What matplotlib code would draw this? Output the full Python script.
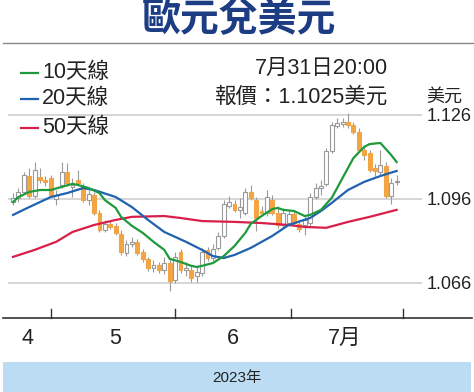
import matplotlib
matplotlib.use("Agg")
import matplotlib.pyplot as plt
from matplotlib.lines import Line2D
from matplotlib.patches import Rectangle

plt.rcParams['font.family'] = ['Liberation Sans', 'Noto Sans CJK TC']

# ---- data (EUR/USD daily candles) ----
opens = [1.0949, 1.0964, 1.0985, 1.1042, 1.0971, 1.1039, 1.1028, 1.1035, 1.0960, 1.1010,
         1.1056, 1.1003, 1.1028, 1.1003, 1.0956, 1.0974, 1.0910, 1.0849, 1.0871, 1.0864,
         1.0835, 1.0767, 1.0799, 1.0807, 1.0771, 1.0746, 1.0714, 1.0724, 1.0706, 1.0731,
         1.0671, 1.0771, 1.0706, 1.0706, 1.0685, 1.0696, 1.0778, 1.0749, 1.0785, 1.0828,
         1.0935, 1.0942, 1.0921, 1.0910, 1.0985, 1.0956, 1.0917, 1.0910, 1.0956, 1.0910,
         1.0867, 1.0874, 1.0906, 1.0871, 1.0867, 1.0874, 1.0967, 1.0999, 1.1014, 1.1131,
         1.1221, 1.1228, 1.1235, 1.1224, 1.1199, 1.1135, 1.1124, 1.1071, 1.1056, 1.1078,
         1.0971, 1.1019]
highs = [1.0981, 1.0999, 1.1056, 1.1071, 1.1092, 1.1071, 1.1042, 1.1046, 1.0992, 1.1092,
         1.1088, 1.1035, 1.1063, 1.1017, 1.0992, 1.0985, 1.0921, 1.0885, 1.0881, 1.0874,
         1.0849, 1.0814, 1.0824, 1.0817, 1.0781, 1.0753, 1.0742, 1.0735, 1.0753, 1.0749,
         1.0771, 1.0781, 1.0735, 1.0721, 1.0721, 1.0785, 1.0789, 1.0799, 1.0842, 1.0956,
         1.0971, 1.0956, 1.0964, 1.0999, 1.1010, 1.0967, 1.0935, 1.0992, 1.0974, 1.0935,
         1.0928, 1.0921, 1.0921, 1.0885, 1.0899, 1.0981, 1.1017, 1.1028, 1.1142, 1.1235,
         1.1249, 1.1249, 1.1267, 1.1235, 1.1214, 1.1149, 1.1135, 1.1085, 1.1135, 1.1092,
         1.1035, 1.1046]
lows = [1.0939, 1.0949, 1.0981, 1.0964, 1.0964, 1.1017, 1.1006, 1.0967, 1.0939, 1.0999,
        1.1006, 1.0967, 1.1010, 1.0949, 1.0939, 1.0903, 1.0842, 1.0842, 1.0853, 1.0831,
        1.0760, 1.0756, 1.0789, 1.0760, 1.0735, 1.0703, 1.0699, 1.0696, 1.0692, 1.0632,
        1.0660, 1.0696, 1.0685, 1.0664, 1.0664, 1.0685, 1.0739, 1.0739, 1.0778, 1.0821,
        1.0928, 1.0914, 1.0892, 1.0903, 1.0956, 1.0846, 1.0899, 1.0899, 1.0903, 1.0857,
        1.0857, 1.0864, 1.0864, 1.0842, 1.0831, 1.0864, 1.0960, 1.0974, 1.1006, 1.1124,
        1.1214, 1.1217, 1.1214, 1.1192, 1.1128, 1.1099, 1.1056, 1.1042, 1.1046, 1.0964,
        1.0942, 1.1010]
closes = [1.0964, 1.0985, 1.1046, 1.0971, 1.1063, 1.1028, 1.1021, 1.0974, 1.0974, 1.1056,
          1.1017, 1.1010, 1.1017, 1.0956, 1.0978, 1.0910, 1.0849, 1.0871, 1.0860, 1.0839,
          1.0771, 1.0799, 1.0807, 1.0767, 1.0746, 1.0714, 1.0724, 1.0706, 1.0731, 1.0667,
          1.0753, 1.0706, 1.0714, 1.0678, 1.0699, 1.0771, 1.0749, 1.0781, 1.0828, 1.0942,
          1.0949, 1.0921, 1.0931, 1.0985, 1.0964, 1.0892, 1.0910, 1.0967, 1.0910, 1.0867,
          1.0910, 1.0906, 1.0874, 1.0853, 1.0885, 1.0967, 1.0999, 1.1006, 1.1131, 1.1224,
          1.1231, 1.1235, 1.1224, 1.1199, 1.1135, 1.1117, 1.1063, 1.1060, 1.1081, 1.0971,
          1.1017, 1.1025]

ma10_idx = [0, 1, 3, 5, 7, 9, 11, 12, 14, 16, 17, 19, 20, 22, 24, 26, 28, 29, 31, 33, 34, 35,
            37, 39, 41, 43, 44, 46, 48, 49, 50, 52, 54, 55, 57, 59, 61, 63, 65, 66, 68, 70, 71]
ma10_val = [1.0949, 1.0967, 1.0985, 1.0992, 1.0992, 1.1003, 1.1014, 1.1010, 1.0999, 1.0981,
            1.0956, 1.0928, 1.0896, 1.0864, 1.0839, 1.0807, 1.0778, 1.0746, 1.0735, 1.0721,
            1.0717, 1.0721, 1.0731, 1.0756, 1.0792, 1.0839, 1.0871, 1.0899, 1.0924, 1.0928,
            1.0921, 1.0917, 1.0899, 1.0903, 1.0921, 1.0964, 1.1035, 1.1106, 1.1146, 1.1156,
            1.1160, 1.1117, 1.1092]
ma20_idx = [0, 3, 7, 10, 13, 15, 19, 22, 25, 28, 32, 35, 37, 39, 41, 44, 48, 51, 55, 57, 59,
            62, 65, 68, 71]
ma20_val = [1.0903, 1.0931, 1.0967, 1.0981, 1.0999, 1.0992, 1.0967, 1.0931, 1.0885, 1.0842,
            1.0807, 1.0778, 1.0756, 1.0749, 1.0760, 1.0785, 1.0828, 1.0867, 1.0892, 1.0917,
            1.0946, 1.0992, 1.1021, 1.1042, 1.1060]
ma50_idx = [0, 4, 8, 11, 15, 19, 22, 28, 31, 35, 41, 46, 51, 54, 58, 62, 66, 71]
ma50_val = [1.0753, 1.0778, 1.0807, 1.0842, 1.0867, 1.0885, 1.0896, 1.0899, 1.0892, 1.0881,
            1.0878, 1.0874, 1.0867, 1.0860, 1.0857, 1.0878, 1.0896, 1.0921]

y_ticks = [1.066, 1.096, 1.126]
y_tick_labels = ["1.066", "1.096", "1.126"]
month_labels = ["4", "5", "6", "7月"]
legend_labels = ["10天線", "20天線", "50天線"]

# ---- figure ----
W, H = 474, 392
fig = plt.figure(figsize=(W / 100, H / 100), dpi=100)

def fx(px):
    return px / W

def fy(py):
    return 1 - py / H

ax = fig.add_axes([fx(8), fy(300), fx(422) - fx(8), fy(45) - fy(300)])
ax.set_xlim(-0.93, 75.7)
ax.set_ylim(1.0599, 1.1510)

UP_EDGE = "#9a9a9a"
DOWN_FILL = "#f3a443"
n = len(closes)
for i in range(n):
    o, h, l, c = opens[i], highs[i], lows[i], closes[i]
    ax.vlines(i, l, h, color="#9a9a9a", lw=0.8, zorder=2)
    bottom = min(o, c)
    height = abs(c - o)
    if c >= o:
        ax.bar(i, height, bottom=bottom, width=0.72, facecolor="white",
               edgecolor=UP_EDGE, linewidth=0.8, zorder=3)
    else:
        ax.bar(i, height, bottom=bottom, width=0.72, facecolor=DOWN_FILL,
               edgecolor=DOWN_FILL, linewidth=0.8, zorder=3)

ax.plot(ma50_idx, ma50_val, color="#d81f4a", lw=1.6, zorder=4)
ax.plot(ma20_idx, ma20_val, color="#1e62b0", lw=1.6, zorder=5)
ax.plot(ma10_idx, ma10_val, color="#1e9a3c", lw=1.6, zorder=6)

for s in ax.spines.values():
    s.set_visible(False)
ax.set_xticks([])
ax.yaxis.tick_right()
ax.set_yticks(y_ticks)
ax.set_yticklabels(y_tick_labels, fontsize=13, color="#222222")
ax.tick_params(axis="y", length=0, pad=3)
ax.grid(axis="y", color="#cfcfcf", lw=1.2, zorder=0)
ax.set_axisbelow(True)
ax.patch.set_alpha(0)

# ---- title ----
fig.text(fx(239), fy(20), "歐元兌美元", ha="center", va="center", fontsize=28,
         fontweight="bold", color="#1c3c84", family=["Noto Sans CJK TC"])
fig.add_artist(Line2D([fx(3), fx(474)], [fy(43), fy(43)], color="#8a8a8a", lw=1.0))

# ---- legend ----
leg_colors = ["#1e9a3c", "#1e62b0", "#d81f4a"]
leg_y = [73, 99, 128]
for lab, col, yy in zip(legend_labels, leg_colors, leg_y):
    fig.add_artist(Line2D([fx(21), fx(38)], [fy(yy), fy(yy)], color=col, lw=1.6))
    fig.text(fx(42), fy(yy), lab, ha="left", va="center", fontsize=15.5, color="#222222")

# ---- quote ----
fig.text(fx(388), fy(68), "7月31日20:00", ha="right", va="center", fontsize=15.5, color="#222222")
fig.text(fx(388), fy(97), "報價：1.1025美元", ha="right", va="center", fontsize=15.5, color="#222222")
fig.text(fx(444), fy(97), "美元", ha="center", va="center", fontsize=13, color="#222222")

# ---- month axis ----
fig.add_artist(Line2D([fx(3), fx(472)], [fy(318), fy(318)], color="#333333", lw=1.2))
for tx in [51, 175, 291, 403]:
    fig.add_artist(Line2D([fx(tx), fx(tx)], [fy(318), fy(309)], color="#333333", lw=1.0))
for lab, lx in zip(month_labels, [27, 115, 233, 345]):
    fig.text(fx(lx), fy(338), lab, ha="center", va="center", fontsize=15.5, color="#222222")

# ---- year band ----
fig.add_artist(Rectangle((fx(3), 0), fx(471) - fx(3), fy(362), transform=fig.transFigure,
                         facecolor="#bcdcf3", edgecolor="none"))
fig.text(fx(237), fy(378), "2023年", ha="center", va="center", fontsize=11, color="#222222")

fig.savefig("out.png", dpi=100)
